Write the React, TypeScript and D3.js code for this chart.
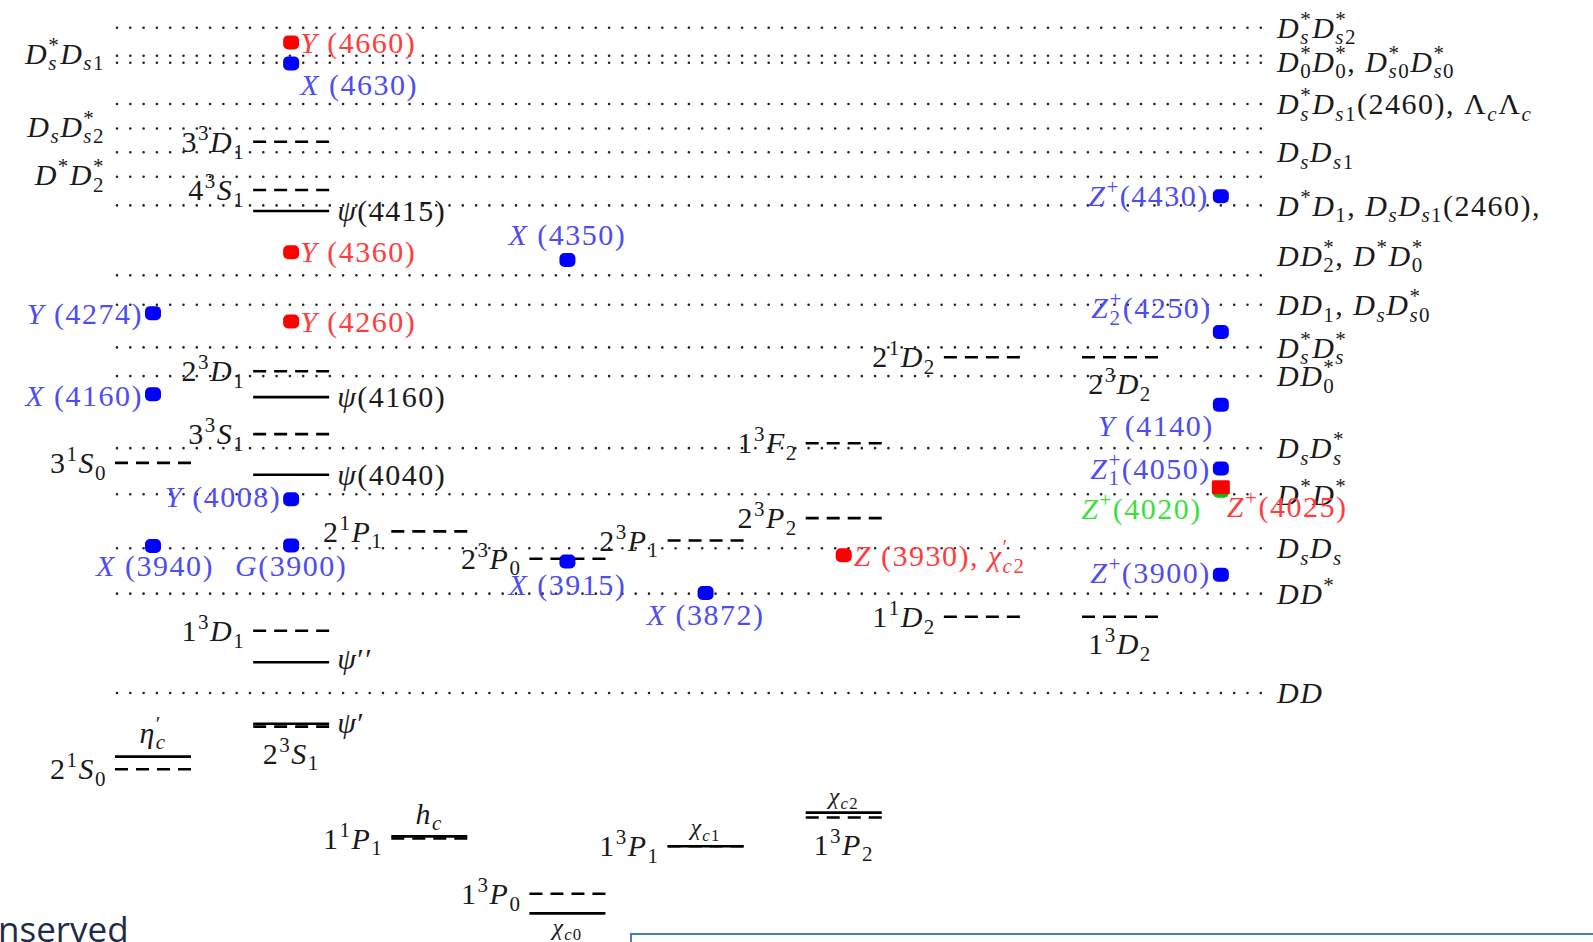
import React, { useEffect, useRef } from "react";
import * as d3 from "d3";

const W = 1593;
const H = 942;
const SERIF = "'Liberation Serif', 'Times New Roman', serif";
const INK = "#1a1a1a";

// Open-charm pair thresholds (MeV), labelled on the right edge
const rightThresholdLabels = [
  "D_s^*D_{s2}^*",
  "D_0^*D_0^*, D_{s0}^*D_{s0}^*",
  "D_s^*D_{s1}(2460), Λ_cΛ_c",
  "D_sD_{s1}",
  "D^*D_1, D_sD_{s1}(2460),",
  "DD_2^*, D^*D_0^*",
  "DD_1, D_sD_{s0}^*",
  "D_s^*D_s^*",
  "DD_0^*",
  "D_sD_s^*",
  "D^*D^*",
  "D_sD_s",
  "DD^*",
  "DD",
];
const rightThresholdMasses = [4681, 4631, 4572, 4503, 4427, 4327, 4285, 4224, 4183, 4080, 4014, 3937, 3872, 3730];

// Thresholds labelled on the left edge
const leftThresholdLabels = ["D_s^*D_{s1}", "D_sD_{s2}^*", "D^*D_2^*"];
const leftThresholdMasses = [4641, 4537, 4468];

// Potential-model charmonium predictions (dashed levels)
const predictedLevels = [
  { term: "3^1S_0", col: 0, mass: 4059 },
  { term: "2^1S_0", col: 0, mass: 3621 },
  { term: "3^3D_1", col: 1, mass: 4518 },
  { term: "4^3S_1", col: 1, mass: 4449 },
  { term: "2^3D_1", col: 1, mass: 4190 },
  { term: "3^3S_1", col: 1, mass: 4100 },
  { term: "1^3D_1", col: 1, mass: 3819 },
  { term: "2^3S_1", col: 1, mass: 3682 },
  { term: "2^1P_1", col: 2, mass: 3961 },
  { term: "1^1P_1", col: 2, mass: 3522 },
  { term: "2^3P_0", col: 3, mass: 3922 },
  { term: "1^3P_0", col: 3, mass: 3443 },
  { term: "2^3P_1", col: 4, mass: 3948 },
  { term: "1^3P_1", col: 4, mass: 3511 },
  { term: "1^3F_2", col: 5, mass: 4087 },
  { term: "2^3P_2", col: 5, mass: 3980 },
  { term: "1^3P_2", col: 5, mass: 3552 },
  { term: "2^1D_2", col: 6, mass: 4210 },
  { term: "1^1D_2", col: 6, mass: 3839 },
  { term: "2^3D_2", col: 7, mass: 4210 },
  { term: "1^3D_2", col: 7, mass: 3839 },
];

// Established charmonia (solid levels)
const observedLevels = [
  { name: "ψ(4415)", col: 1, mass: 4419 },
  { name: "ψ(4160)", col: 1, mass: 4153 },
  { name: "ψ(4040)", col: 1, mass: 4042 },
  { name: "ψ′′", col: 1, mass: 3774 },
  { name: "ψ′", col: 1, mass: 3686 },
  { name: "η_c^{′}", col: 0, mass: 3639 },
  { name: "h_c", col: 2, mass: 3525 },
  { name: "χ_{c0}", col: 3, mass: 3415 },
  { name: "χ_{c1}", col: 4, mass: 3511 },
  { name: "χ_{c2}", col: 5, mass: 3559 },
];

// XYZ candidates; col 7.73 is the charged-state column
const exoticStates = [
  { name: "Y (4660)", col: 1, mass: 4660, set: "b" },
  { name: "X (4630)", col: 1, mass: 4630, set: "a" },
  { name: "Y (4360)", col: 1, mass: 4360, set: "b" },
  { name: "Y (4260)", col: 1, mass: 4261, set: "b" },
  { name: "Y (4274)", col: 0, mass: 4273, set: "a" },
  { name: "X (4160)", col: 0, mass: 4157, set: "a" },
  { name: "X (4350)", col: 3, mass: 4349, set: "a" },
  { name: "Y (4008)", col: 1, mass: 4007, set: "a" },
  { name: "X (3940)", col: 0, mass: 3940, set: "a" },
  { name: "G(3900)", col: 1, mass: 3941, set: "a" },
  { name: "X (3915)", col: 3, mass: 3918, set: "a" },
  { name: "X (3872)", col: 4, mass: 3873, set: "a" },
  { name: "Z (3930), χ_{c2}^{′}", col: 5, mass: 3927, set: "b" },
  { name: "Z^+(4430)", col: 7.73, mass: 4440, set: "a" },
  { name: "Z_2^+(4250)", col: 7.73, mass: 4246, set: "a" },
  { name: "Y (4140)", col: 7.73, mass: 4142, set: "a" },
  { name: "Z_1^+(4050)", col: 7.73, mass: 4051, set: "a" },
  { name: "Z^+(4020)", col: 7.73, mass: 4019, set: "c" },
  { name: "Z^+(4025)", col: 7.73, mass: 4024, set: "b" },
  { name: "Z^+(3900)", col: 7.73, mass: 3899, set: "a" },
];

type Atom = { base: string; sub?: string; sup?: string };

function parseTex(src: string): Atom[] {
  const atoms: Atom[] = [];
  const chars = Array.from(src);
  let i = 0;
  const group = () => {
    if (chars[i] === "{") {
      let j = i + 1;
      let s = "";
      while (j < chars.length && chars[j] !== "}") s += chars[j++];
      i = j + 1;
      return s;
    }
    return chars[i++];
  };
  while (i < chars.length) {
    const ch = chars[i];
    if (ch === "_" || ch === "^") {
      i++;
      const g = group();
      if (!atoms.length) atoms.push({ base: "" });
      const last = atoms[atoms.length - 1];
      if (ch === "_") last.sub = g;
      else last.sup = g;
    } else {
      atoms.push({ base: ch });
      i++;
    }
  }
  return atoms;
}

const isItalic = (ch: string) => /[A-Za-z\u03B1-\u03C9]/.test(ch);

function appendRuns(parent: any, str: string) {
  let run = "";
  let it: boolean | null = null;
  const flush = () => {
    if (run) parent.append("tspan").style("font-style", it ? "italic" : "normal").text(run);
    run = "";
  };
  for (const ch of Array.from(str)) {
    const k = isItalic(ch);
    if (it !== null && k !== it) flush();
    it = k;
    run += ch;
  }
  flush();
}

// Math-style label: letters italic, digits upright, _ and ^ scripts (stacked when both)
function drawTex(sel: any, src: string, x: number, cy: number, size: number, anchor: string, fill: string) {
  const text = sel
    .append("text")
    .attr("x", x)
    .attr("y", cy + 0.34 * size)
    .attr("text-anchor", anchor)
    .attr("fill", fill)
    .style("font-family", SERIF)
    .style("font-size", `${size}px`)
    .style("letter-spacing", `${(size * 0.05).toFixed(2)}px`)
    .style("white-space", "pre");
  const ss = size * 0.7;
  const up = -0.4 * size;
  const down = 0.22 * size;
  let dy = 0;
  let dx = 0;
  const piece = (str: string, fs?: number) => {
    const t = text.append("tspan");
    if (fs) t.style("font-size", `${fs}px`);
    if (Math.abs(dy) > 1e-6) t.attr("dy", dy);
    if (Math.abs(dx) > 1e-6) t.attr("dx", dx);
    dy = 0;
    dx = 0;
    appendRuns(t, str);
    return (t.node() as SVGTextContentElement).getComputedTextLength();
  };
  for (const a of parseTex(src)) {
    if (a.base) piece(a.base);
    if (a.sup !== undefined && a.sub !== undefined) {
      dy += up;
      const w1 = piece(a.sup, ss);
      dy += down - up;
      dx -= w1;
      const w2 = piece(a.sub, ss);
      dy -= down;
      dx += Math.max(0, w1 - w2);
    } else if (a.sup !== undefined) {
      dy += up;
      piece(a.sup, ss);
      dy -= up;
    } else if (a.sub !== undefined) {
      dy += down;
      piece(a.sub, ss);
      dy -= down;
    }
  }
  return text;
}

export default function App() {
  const ref = useRef<SVGSVGElement | null>(null);

  useEffect(() => {
    document.body.style.margin = "0";
    const svg = d3.select(ref.current);
    svg.selectAll("*").remove();

    const y = d3.scaleLinear().domain([3730, 4682]).range([693, 27]);
    const x = d3.scaleLinear().domain([0, 7]).range([153, 1120]);
    const half = 38;
    const lineX0 = 117;
    const lineX1 = 1268;
    const fs = 30;

    const color = d3.scaleOrdinal<string, string>().domain(["a", "b", "c"]).range(["#0000ff", "#ff0000", "#00c800"]);
    const labelColor = d3.scaleOrdinal<string, string>().domain(["a", "b", "c"]).range(["#4d4df2", "#ff3d3d", "#3ede3e"]);

    svg.append("rect").attr("width", W).attr("height", H).attr("fill", "#fff");

    // threshold lines
    const allThr = [...rightThresholdMasses, ...leftThresholdMasses];
    svg
      .append("g")
      .selectAll("line")
      .data(allThr)
      .join("line")
      .attr("x1", lineX0)
      .attr("x2", lineX1)
      .attr("y1", (d) => y(d))
      .attr("y2", (d) => y(d))
      .attr("stroke", "#222")
      .attr("stroke-width", 2.6)
      .attr("stroke-linecap", "round")
      .attr("stroke-dasharray", "0 13.3");

    const gl = svg.append("g");
    const thrNudge: Record<string, number> = { "DD_2^*, D^*D_0^*": -20, "D_0^*D_0^*, D_{s0}^*D_{s0}^*": -1 };
    rightThresholdLabels.forEach((lab, i) => {
      drawTex(gl, lab, 1277, y(rightThresholdMasses[i]) + (thrNudge[lab] || 0), fs, "start", INK);
    });
    leftThresholdLabels.forEach((lab, i) => {
      drawTex(gl, lab, 105, y(leftThresholdMasses[i]) - 2, fs, "end", INK);
    });

    // predicted levels
    const lv = svg.append("g");
    lv.selectAll("line.pred")
      .data(predictedLevels)
      .join("line")
      .attr("class", "pred")
      .attr("x1", (d) => x(d.col) - half)
      .attr("x2", (d) => x(d.col) + half)
      .attr("y1", (d) => y(d.mass))
      .attr("y2", (d) => y(d.mass))
      .attr("stroke", "#000")
      .attr("stroke-width", 2.6)
      .attr("stroke-dasharray", "13 8");

    lv.selectAll("line.obs")
      .data(observedLevels)
      .join("line")
      .attr("class", "obs")
      .attr("x1", (d) => x(d.col) - half)
      .attr("x2", (d) => x(d.col) + half)
      .attr("y1", (d) => y(d.mass))
      .attr("y2", (d) => y(d.mass))
      .attr("stroke", "#000")
      .attr("stroke-width", 2.6);

    const below = new Set(["2^3S_1", "1^3P_2", "2^3D_2", "1^3D_2"]);
    predictedLevels.forEach((d) => {
      if (below.has(d.term)) drawTex(gl, d.term, x(d.col), y(d.mass) + 27, fs, "middle", INK);
      else drawTex(gl, d.term, x(d.col) - half - 8, y(d.mass), fs, "end", INK);
    });

    const obsAt: Record<string, [string, number, number, number]> = {
      "ψ′′": ["start", half + 8, -3, fs],
      "ψ′": ["start", half + 8, -1, fs],
      "η_c^{′}": ["middle", 0, -24, fs],
      "h_c": ["middle", 0, -23, fs],
      "χ_{c0}": ["middle", 0, 13, 24],
      "χ_{c1}": ["middle", 0, -19, 24],
      "χ_{c2}": ["middle", 0, -17, 24],
    };
    observedLevels.forEach((d) => {
      const [anchor, dx, dy, size] = obsAt[d.name] || ["start", half + 8, 0, fs];
      drawTex(gl, d.name, x(d.col) + dx, y(d.mass) + dy, size, anchor, INK);
    });

    // exotic candidates
    const ex = svg.append("g");
    ex.selectAll("rect")
      .data(exoticStates)
      .join("rect")
      .attr("x", (d) => x(d.col) - (d.name === "Z^+(4025)" ? 9 : 8))
      .attr("y", (d) => y(d.mass) - 7)
      .attr("width", (d) => (d.name === "Z^+(4025)" ? 18 : 16))
      .attr("height", 14)
      .attr("rx", (d) => (d.name === "Z^+(4025)" ? 1.5 : 5))
      .attr("fill", (d) => color(d.set));

    const exAt: Record<string, [string, number, number]> = {
      "Y (4660)": ["start", 9, 0],
      "X (4630)": ["start", 9, 21],
      "Y (4360)": ["start", 9, 0],
      "Y (4260)": ["start", 9, 0],
      "Y (4274)": ["end", -10, 1],
      "X (4160)": ["end", -10, 2],
      "X (4350)": ["middle", 0, -25],
      "Y (4008)": ["end", -10, -2],
      "X (3940)": ["middle", 2, 20],
      "G(3900)": ["middle", 0, 20],
      "X (3915)": ["middle", 0, 23],
      "X (3872)": ["middle", 0, 22],
      "Z (3930), χ_{c2}^{′}": ["start", 10, 1],
      "Z^+(4430)": ["end", -12, 0],
      "Z_2^+(4250)": ["end", -9, -24],
      "Y (4140)": ["end", -7, 21],
      "Z_1^+(4050)": ["end", -10, 0],
      "Z^+(4025)": ["start", 6, 19],
      "Z^+(4020)": ["end", -19, 18],
      "Z^+(3900)": ["end", -10, -2],
    };
    exoticStates.forEach((d) => {
      const [anchor, dx, dy] = exAt[d.name] || ["start", 9, 0];
      drawTex(ex, d.name, x(d.col) + dx, y(d.mass) + dy, fs, anchor, labelColor(d.set));
    });

    // slide fragments below the diagram
    svg
      .append("text")
      .attr("x", -2)
      .attr("y", 942)
      .attr("fill", "#1d2b4a")
      .style("font-family", "'Open Sans', sans-serif")
      .style("font-size", "35px")
      .text("nserved");
    svg
      .append("rect")
      .attr("x", 631)
      .attr("y", 934)
      .attr("width", 1200)
      .attr("height", 200)
      .attr("fill", "none")
      .attr("stroke", "#4a7ebb")
      .attr("stroke-width", 2);
  }, []);

  return <svg ref={ref} width={W} height={H} style={{ display: "block" }} />;
}
